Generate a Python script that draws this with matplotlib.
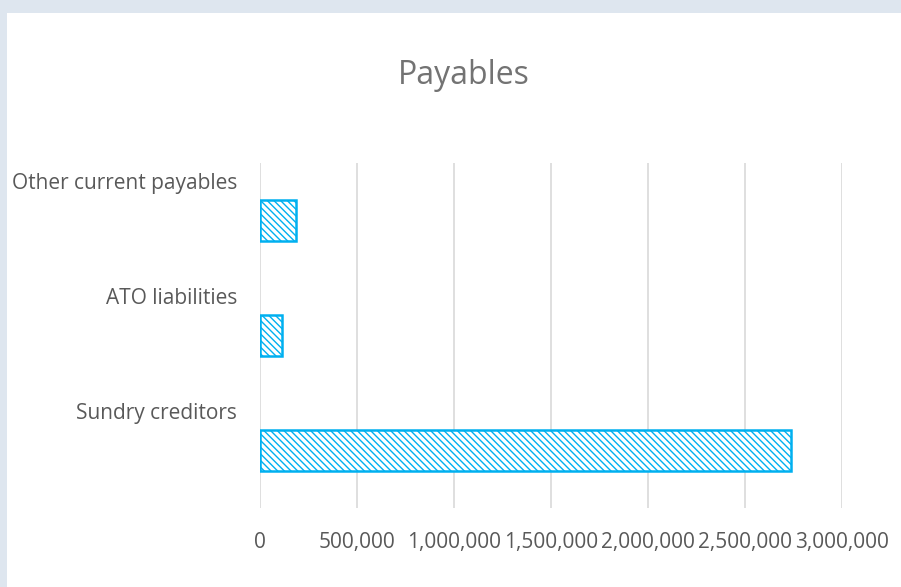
import matplotlib
matplotlib.use('Agg')
import matplotlib.pyplot as plt
from matplotlib.patches import Rectangle
from matplotlib.ticker import FuncFormatter

# data (bottom -> top, as Excel draws it)
categories = ['Sundry creditors', 'ATO liabilities', 'Other current payables']
values = [2737000, 113000, 186000]
xticks = [0, 500000, 1000000, 1500000, 2000000, 2500000, 3000000]

BLUE = '#00B0F0'
TXT = '#595959'
plt.rcParams['font.family'] = ['Open Sans', 'DejaVu Sans']
plt.rcParams['hatch.linewidth'] = 1.0
plt.rcParams['hatch.color'] = BLUE

W, H = 901, 587
fig = plt.figure(figsize=(W / 100, H / 100), dpi=100)
fig.patch.set_facecolor('#DEE6EF')
fig.patches.append(Rectangle((7 / W, 0), 1, 1 - 13 / H, transform=fig.transFigure,
                             facecolor='white', edgecolor='none', zorder=-5))

ax = fig.add_axes([260 / W, (H - 508) / H, (842 - 260) / W, 345 / H])
ax.set_zorder(2)
ax.set_facecolor('none')
ypos = list(range(len(categories)))
ax.barh(ypos, values, height=0.357, color='white', edgecolor=BLUE,
        linewidth=1.8, hatch='\\' * 5, zorder=3)

ax.set_xlim(0, 3000000)
ax.set_ylim(-0.5, len(categories) - 0.5)
ax.set_xticks(xticks)
ax.xaxis.set_major_formatter(FuncFormatter(lambda v, p: f'{int(v):,}'))
ax.set_yticks([y + 0.345 for y in ypos])
ax.set_yticklabels(categories)
ax.tick_params(axis='x', length=0, pad=17.5, labelsize=15, labelcolor=TXT)
ax.tick_params(axis='y', length=0, pad=16.5, labelsize=15, labelcolor=TXT)
ax.grid(axis='x', color='#D9D9D9', linewidth=1.2, zorder=0)
for s in ax.spines.values():
    s.set_visible(False)

fig.text(464 / W, 1 - 75 / H, 'Payables', ha='center', va='center',
         fontsize=23, color='#737373')

fig.savefig('out.png', dpi=100)
